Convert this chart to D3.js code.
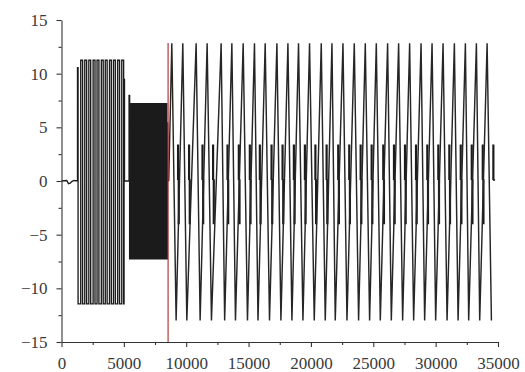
<!DOCTYPE html>
<html>
<head>
<meta charset="utf-8">
<script src="https://cdn.jsdelivr.net/npm/d3@7"></script>
<style>
  html, body { margin: 0; padding: 0; background: #fff; }
  svg { display: block; }
</style>
</head>
<body>
<svg id="chart" width="525" height="372"></svg>
<script>
// ---- axis ticks ----
const xTicks = [0, 5000, 10000, 15000, 20000, 25000, 30000, 35000];
const xMinor = [2500, 7500, 12500, 17500, 22500, 27500, 32500];
const yTicks = [-15, -10, -5, 0, 5, 10, 15];
const yMinor = [-12.5, -7.5, -2.5, 2.5, 7.5, 12.5];

// ---- start-up: output held near zero ----
const idleT = [0, 420, 560, 700, 820, 1000, 1284];
const idleV = [0, 0.05, -0.25, -0.2, -0.05, 0.05, 0];

// ---- first burst (about ±11 V) ----
const burstAEdgeT = [1284, 5016];      // opening / closing swing times
const burstAEdgeV = [10.55, 9.47];     // opening / closing swing peaks
const burstAPulses = [1541, 1865, 2190, 2535, 2850, 3195, 3510, 3850, 4170, 4505, 4832];
const burstALevels = [11.25, -11.45];  // high, low

// ---- second burst (about ±7 V) ----
const burstBEdgeT = [5418, 8491];
const burstBEdgeV = [7.97, 5.4];
const burstBPulses = [5554, 5658, 5765, 5866, 5975, 6078, 6182, 6290, 6391, 6497,
                      6600, 6706, 6811, 6913, 7020, 7122, 7228, 7331, 7437, 7540,
                      7646, 7749, 7853, 7958, 8062, 8167, 8270, 8387];
const burstBLevels = [7.2, -7.25];

// ---- switching instant ----
const switchT = 8547;
const switchTop = 12.85;

// ---- steady oscillation: large triangular swings ----
const swingStart = 8600;
const swingTops = [8845, 9727, 10795, 11678, 12801, 13660, 14567, 15474, 16333, 17272,
                   18155, 19006, 19889, 20828, 21686, 22569, 23476, 24359, 25242, 26149,
                   27032, 27915, 28830, 29713, 30595, 31502, 32385, 33268, 34127];
const swingBottoms = [9190, 10048, 11116, 12023, 13082, 13949, 14912, 15755, 16678, 17593,
                      18476, 19359, 20266, 21149, 21951, 22890, 23821, 24704, 25563, 26446,
                      27353, 28236, 29118, 30001, 30916, 31799, 32650, 33533, 34472];
const swingLevels = [12.84, -13.0];

// ---- steady oscillation: stepped pulses ----
const stepTimes = [9374, 10257, 11333, 12183, 13339, 14246, 15129, 15931, 16870, 17753,
                   18660, 19543, 20386, 21285, 22216, 23099, 24014, 24897, 25828, 26687,
                   27570, 28453, 29359, 30242, 31125, 32040, 32923, 33806, 34656];
const stepHigh = 3.32;
const stepMid = 0.1;
const stepLows = [-3.95, -3.95, -3.95, -3.95, -3.95, -3.95, -3.95, -3.95, -3.95, -3.95,
                  -3.95, -3.95, -3.95, -3.95, -3.95, -3.95, -3.95, -3.95, -3.95, -3.95,
                  -3.95, -3.95, -3.95, -3.95, -3.95, -3.95, -3.95, -3.95, 0.1];

// ---- layout ----
const svg = d3.select("#chart");
const x = d3.scaleLinear().domain([0, 35000]).range([61.5, 498]);
const y = d3.scaleLinear().domain([-15, 15]).range([342, 20]);

const line = d3.line().x(d => x(d[0])).y(d => y(d[1]));

function squarePulses(pulses, hi, lo, width) {
  const pts = [];
  pulses.forEach(p => {
    pts.push([p, lo], [p, hi], [p + width, hi], [p + width, lo]);
  });
  return pts;
}

// bursts before the switching instant
const bursts = [];
idleT.forEach((t, i) => bursts.push([t, idleV[i]]));

bursts.push([burstAEdgeT[0], burstAEdgeV[0]], [burstAEdgeT[0] + 45, burstAEdgeV[0]],
            [burstAEdgeT[0] + 45, burstALevels[1]]);
bursts.push(...squarePulses(burstAPulses, burstALevels[0], burstALevels[1], 150));
bursts.push([burstAEdgeT[1], burstALevels[1]], [burstAEdgeT[1], burstAEdgeV[1]],
            [burstAEdgeT[1] + 35, burstAEdgeV[1]], [burstAEdgeT[1] + 35, 0]);

bursts.push([burstBEdgeT[0], 0], [burstBEdgeT[0], burstBEdgeV[0]],
            [burstBEdgeT[0] + 45, burstBEdgeV[0]], [burstBEdgeT[0] + 45, burstBLevels[1]]);
bursts.push(...squarePulses(burstBPulses, burstBLevels[0], burstBLevels[1], 50));
bursts.push([burstBEdgeT[1], burstBLevels[1]], [burstBEdgeT[1], burstBEdgeV[1]],
            [burstBEdgeT[1] + 25, burstBEdgeV[1]], [burstBEdgeT[1] + 25, 0],
            [swingStart, 0]);

// triangular swings after the switch
const swings = [[swingStart, 0]];
swingTops.forEach((t, i) => {
  swings.push([t, swingLevels[0]], [swingBottoms[i], swingLevels[1]]);
});

const ink = "#1b1b1b";

// stepped pulses
const steps = stepTimes.map((p, i) => [
  [p - 55, stepMid], [p - 55, stepHigh], [p, stepHigh], [p, stepLows[i]],
  [p + 55, stepLows[i]], [p + 55, stepMid], [p + 110, stepMid]
]);

svg.append("g").selectAll("path.step")
  .data(steps)
  .join("path")
  .attr("class", "step")
  .attr("d", line)
  .attr("fill", "none")
  .attr("stroke", ink)
  .attr("stroke-width", 1.5);

svg.append("path")
  .datum(swings)
  .attr("d", line)
  .attr("fill", "none")
  .attr("stroke", "#262626")
  .attr("stroke-width", 1.45);

svg.append("path")
  .datum(bursts)
  .attr("d", line)
  .attr("fill", "none")
  .attr("stroke", ink)
  .attr("stroke-width", 1.35);

// switching marker
svg.append("line")
  .attr("x1", x(switchT)).attr("x2", x(switchT))
  .attr("y1", y(-15)).attr("y2", y(switchTop))
  .attr("stroke", "#b23a3a")
  .attr("stroke-width", 1.2);

// ---- axes ----
const axisColor = "#333";
const fontFamily = "'Liberation Serif', 'DejaVu Serif', serif";

svg.append("g").attr("transform", `translate(0,${y(-15)})`)
  .call(d3.axisBottom(x).tickValues(xTicks).tickFormat(d3.format("d"))
    .tickSize(5).tickSizeOuter(0).tickPadding(10));
svg.append("g").attr("transform", `translate(0,${y(-15)})`)
  .call(d3.axisBottom(x).tickValues(xMinor).tickFormat("").tickSize(3).tickSizeOuter(0))
  .select(".domain").remove();

svg.append("g").attr("transform", `translate(${x(0)},0)`)
  .call(d3.axisLeft(y).tickValues(yTicks).tickFormat(d3.format("d"))
    .tickSize(5).tickSizeOuter(0).tickPadding(9));
svg.append("g").attr("transform", `translate(${x(0)},0)`)
  .call(d3.axisLeft(y).tickValues(yMinor).tickFormat("").tickSize(3).tickSizeOuter(0))
  .select(".domain").remove();

svg.selectAll(".domain, .tick line").attr("stroke", axisColor).attr("stroke-width", 1.1);
svg.selectAll(".tick text")
  .attr("fill", "#3a3a3a")
  .style("font-family", fontFamily)
  .style("font-size", "17px");
</script>
</body>
</html>
